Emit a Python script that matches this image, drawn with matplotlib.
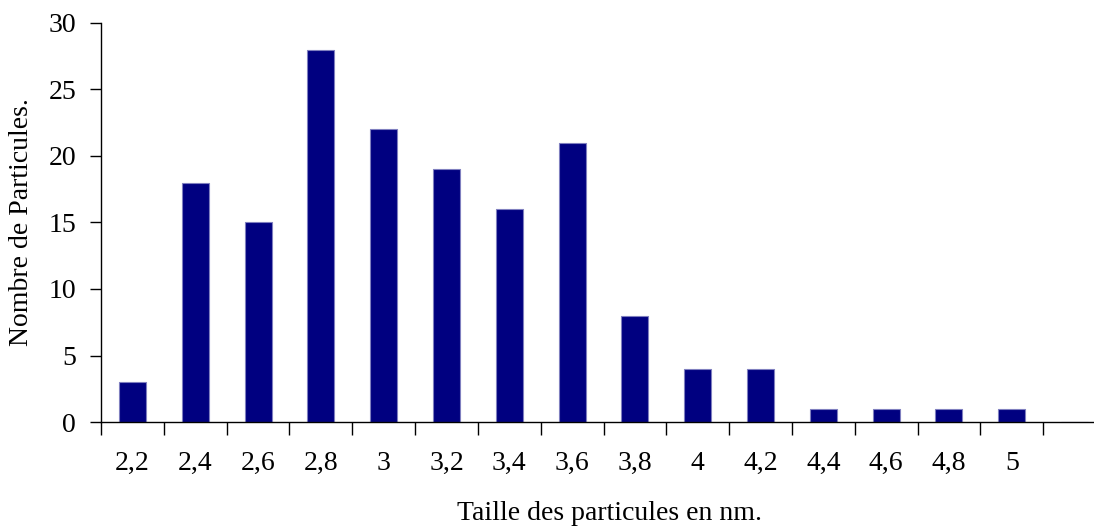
import numpy as np
import matplotlib
matplotlib.use('Agg')
import matplotlib.pyplot as plt

plt.rcParams['font.family'] = ['Liberation Serif', 'DejaVu Serif']

tailles = ['2,2', '2,4', '2,6', '2,8', '3', '3,2', '3,4', '3,6', '3,8',
           '4', '4,2', '4,4', '4,6', '4,8', '5', '']
nombres = [3, 18, 15, 28, 22, 19, 16, 21, 8, 4, 4, 1, 1, 1, 1, 0]

fig = plt.figure(figsize=(10.94, 5.30), dpi=100)
ax = fig.add_axes([101 / 1094, 108 / 530, 1005 / 1094, 399 / 530])

x = np.arange(len(tailles))
ax.bar(x, nombres, width=0.43, color='#000080', edgecolor='#7f7fbf', linewidth=0.8)

ax.set_xlim(-0.5, len(tailles) - 0.5)
ax.set_ylim(0, 30)
ax.set_yticks(range(0, 31, 5))
ax.tick_params(axis='y', length=8, width=1, pad=10, labelsize=20, direction='out')

# graduations entre les categories, etiquettes au centre
ax.set_xticks(np.arange(-0.5, len(tailles) - 0.4, 1))
ax.set_xticklabels([])
ax.tick_params(axis='x', which='major', length=9, width=1, direction='out')
ax.set_xticks(x, minor=True)
ax.set_xticklabels(tailles, minor=True)
ax.tick_params(axis='x', which='minor', length=0, pad=21, labelsize=20)

for s in ['top', 'right']:
    ax.spines[s].set_visible(False)
ax.spines['left'].set_linewidth(1)
ax.spines['bottom'].set_linewidth(1)

fig.text(22 / 1094, 1 - 222 / 530, 'Nombre de Particules.', rotation=90,
         ha='center', va='center', fontsize=20)
fig.text(610 / 1094, 1 - 514 / 530, 'Taille des particules en nm.',
         ha='center', va='center', fontsize=20)

fig.savefig('out.png', dpi=100)
